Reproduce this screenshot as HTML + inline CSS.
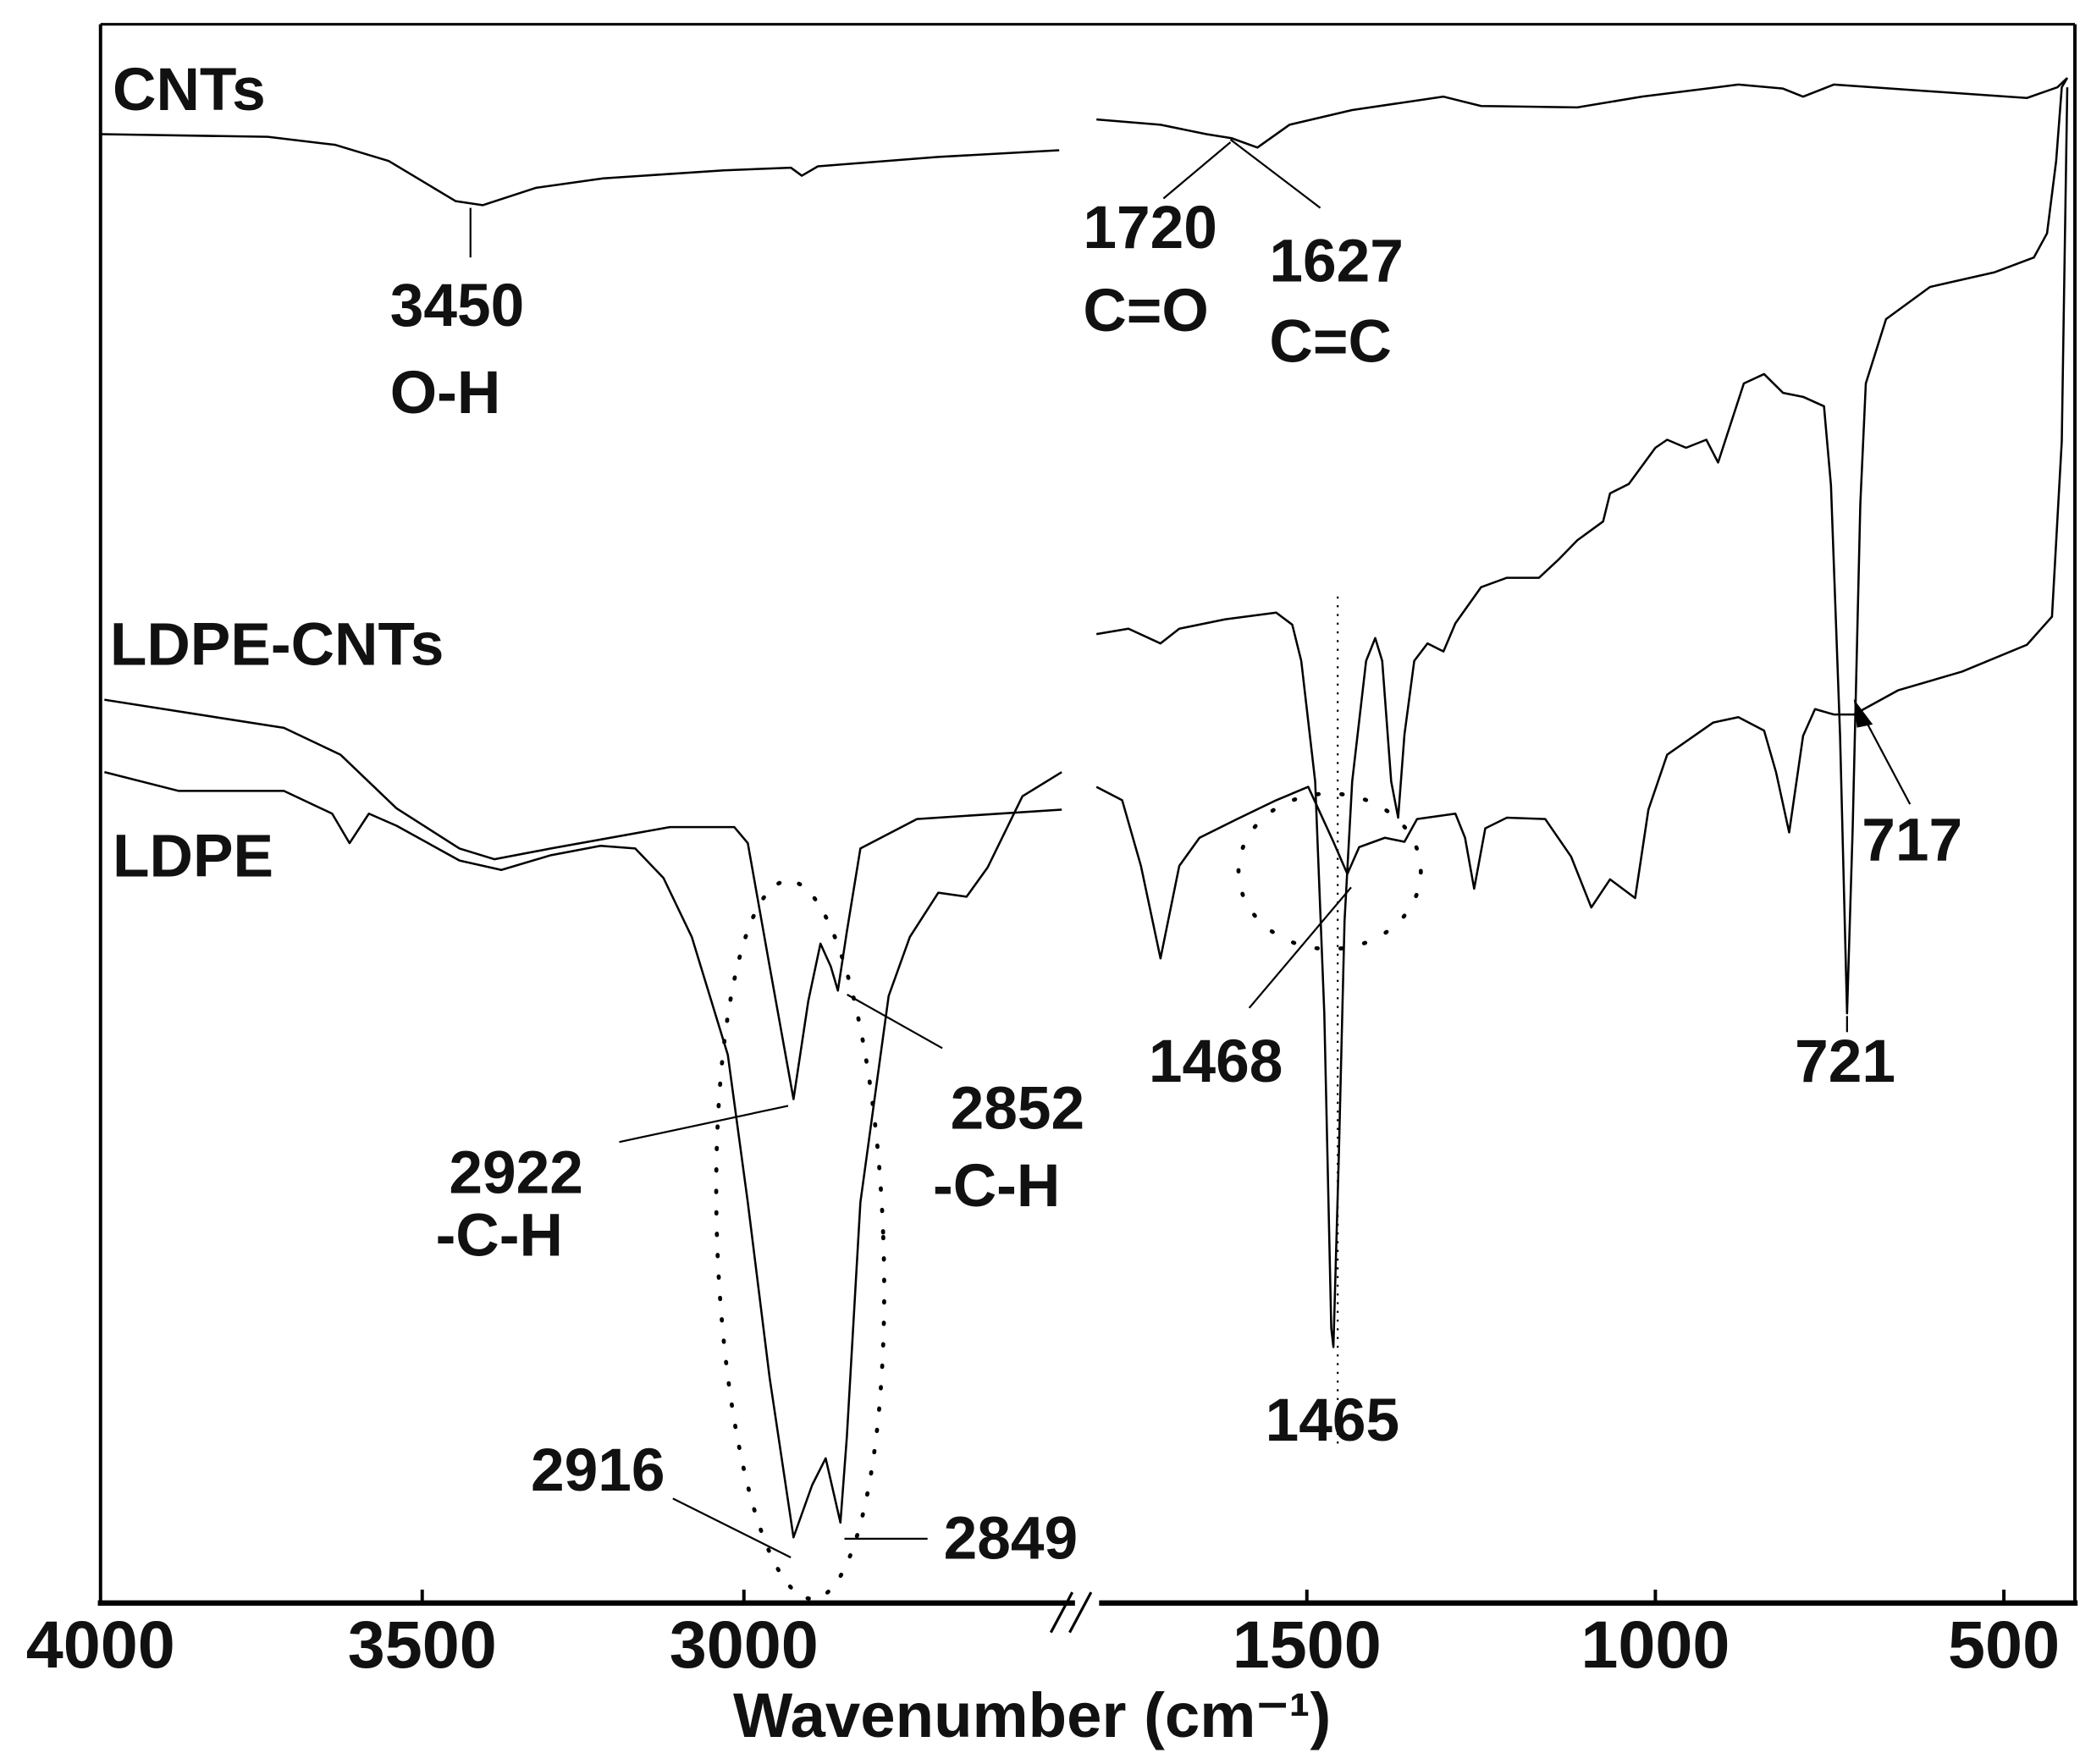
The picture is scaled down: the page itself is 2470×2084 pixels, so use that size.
<!DOCTYPE html>
<html><head><meta charset="utf-8">
<style>
html,body{margin:0;padding:0;background:#fff;}
svg{display:block;}
text{font-family:"Liberation Sans",Arial,sans-serif;font-weight:bold;fill:#111;}
</style></head>
<body>
<svg id="chart" width="2470" height="2084" viewBox="0 0 1560 1316" xmlns="http://www.w3.org/2000/svg">
<rect x="0" y="0" width="1560" height="1316" fill="#fff"/>
<g id="frame" stroke="#000" fill="none">
  <line x1="75" y1="18" x2="1548" y2="18" stroke-width="2"/>
  <line x1="75" y1="18" x2="75" y2="1196" stroke-width="2.5"/>
  <line x1="1548" y1="18" x2="1548" y2="1196" stroke-width="2.5"/>
  <line x1="73" y1="1196" x2="802" y2="1196" stroke-width="4"/>
  <line x1="820" y1="1196" x2="1550" y2="1196" stroke-width="4"/>
  <line x1="784" y1="1218" x2="800" y2="1188" stroke-width="2"/>
  <line x1="798" y1="1218" x2="814" y2="1188" stroke-width="2"/>
</g>
<g id="ticks"></g>
<g id="series" fill="none" stroke="#000" stroke-width="1.6"></g>
<g id="annot" stroke="#000" stroke-width="1.4" fill="none">
  <line x1="351" y1="155" x2="351" y2="192"/>
  <line x1="868" y1="148" x2="918" y2="106"/>
  <line x1="985" y1="155" x2="918" y2="104"/>
  <line x1="462" y1="852" x2="588" y2="825"/>
  <line x1="632" y1="742" x2="703" y2="782"/>
  <line x1="502" y1="1118" x2="590" y2="1162"/>
  <line x1="630" y1="1148" x2="692" y2="1148"/>
  <line x1="932" y1="752" x2="1008" y2="662"/>
  <line x1="1378" y1="758" x2="1378" y2="770"/>
  <line x1="1425" y1="600" x2="1390" y2="534"/>
  <polygon points="1384,524 1396,540 1386,542" fill="#000"/>
  <line x1="998" y1="445" x2="998" y2="1080" stroke-dasharray="1.5 5"/>
  <ellipse cx="597" cy="925" rx="62" ry="268" transform="rotate(-2 597 925)" stroke-width="3" stroke-dasharray="1 15" stroke-linecap="round"/>
  <ellipse cx="992" cy="650" rx="68" ry="58" stroke-width="3" stroke-dasharray="1 17" stroke-linecap="round"/>
</g>
<g id="labels" font-size="45">
  <text x="84" y="82">CNTs</text>
  <text x="82" y="496">LDPE-CNTs</text>
  <text x="84" y="654">LDPE</text>
  <text x="291" y="243">3450</text>
  <text x="291" y="308">O-H</text>
  <text x="808" y="185">1720</text>
  <text x="808" y="247">C=O</text>
  <text x="947" y="210">1627</text>
  <text x="947" y="270">C=C</text>
  <text x="335" y="890">2922</text>
  <text x="325" y="937">-C-H</text>
  <text x="709" y="842">2852</text>
  <text x="696" y="900">-C-H</text>
  <text x="396" y="1112">2916</text>
  <text x="704" y="1163">2849</text>
  <text x="857" y="807">1468</text>
  <text x="944" y="1075">1465</text>
  <text x="1339" y="807">721</text>
  <text x="1389" y="642">717</text>
  <text x="770" y="1296" text-anchor="middle" font-size="47">Wavenumber (cm⁻¹)</text>
</g>
</svg>
<script>
var tickValues = [4000, 3500, 3000, 1500, 1000, 500];
var cntsWn = [4000,3740,3635,3552,3448,3406,3323,3219,3031,2927,2910,2885,2698,2510, 1802,1710,1644,1608,1571,1525,1435,1304,1250,1112,1019,881,817,788,744,606,467,423,409];
var cntsT  = [1100,1098,1092,1080,1050,1047,1060,1067,1073,1075,1069,1076,1083,1088, 1111,1107,1100,1097,1090,1107,1118,1128,1121,1120,1128,1137,1134,1128,1137,1132,1127,1135,1142];
var ldpeCntsWn = [3994,3715,3627,3540,3442,3388,3300,3115,3015,2994,2960,2923,2900,2881,2865,2854,2840,2819,2731,2506, 1802,1765,1738,1710,1683,1654,1600,1544,1498,1462,1442,1425,1388,1360,1342,1287,1273,1260,1244,1213,1158,1121,1092,1065,1029,1010,983,917,881,844,827,808,788,771,744,715,652,560,467,431,417,409];
var ldpeCntsT  = [678,657,637,597,567,559,567,583,583,571,479,380,453,496,479,461,505,567,589,596, 613,603,554,485,554,575,589,603,613,572,548,568,575,572,589,593,575,537,582,590,589,561,523,544,530,596,637,661,665,655,624,579,651,671,667,667,685,699,719,740,871,1135];
var ldpeWn = [3994,3879,3715,3640,3613,3583,3540,3442,3377,3300,3223,3169,3125,3081,3025,2994,2960,2923,2894,2873,2850,2840,2819,2775,2742,2698,2654,2621,2567,2506, 1802,1756,1710,1683,1617,1544,1521,1508,1488,1475,1465,1462,1454,1446,1435,1415,1402,1392,1379,1369,1360,1346,1327,1304,1287,1250,1213,1167,1138,1112,1075,1065,1038,1000,983,956,927,910,890,873,844,817,788,758,748,735,725,717,706,698,669,606,513,457,438,425,417,409];
var ldpeT  = [624,610,610,593,571,593,584,558,551,562,569,567,545,501,413,303,172,53,92,112,64,128,303,457,501,534,531,553,606,624, 727,731,720,731,738,743,734,707,617,444,209,195,340,513,617,707,724,707,617,590,652,707,720,714,735,762,769,769,783,797,811,832,839,866,872,866,872,855,887,914,921,907,904,897,838,651,444,582,824,914,962,986,997,1008,1026,1080,1135,1142];

function xScale(wn){ return wn >= 2000 ? 75 + (4000 - wn) * 0.48 : 975 + (1500 - wn) * 0.52; }
function yScale(t){ return 1200 - t; }

var ns = "http://www.w3.org/2000/svg";
var tg = document.getElementById('ticks');
tickValues.forEach(function(v){
  var x = xScale(v);
  if (v !== 4000) {
    var l = document.createElementNS(ns,'line');
    l.setAttribute('x1',x); l.setAttribute('x2',x);
    l.setAttribute('y1',1196); l.setAttribute('y2',1186);
    l.setAttribute('stroke','#000'); l.setAttribute('stroke-width','2.5');
    
    
    tg.appendChild(l);
  }
  var t = document.createElementNS(ns,'text');
  t.setAttribute('x', x); t.setAttribute('y', 1244);
  t.setAttribute('text-anchor','middle'); t.setAttribute('font-size','50');
  t.textContent = v;
  
  
  tg.appendChild(t);
});

var sg = document.getElementById('series');
function draw(wn, tv, name){
  var segs = [[],[]];
  for (var i = 0; i < wn.length; i++){
    segs[wn[i] >= 2000 ? 0 : 1].push(xScale(wn[i]).toFixed(1)+','+yScale(tv[i]).toFixed(1));
  }
  segs.forEach(function(s){
    if (!s.length) return;
    var p = document.createElementNS(ns,'polyline');
    p.setAttribute('points', s.join(' '));
    p.setAttribute('stroke-linejoin','round');
    
    
    sg.appendChild(p);
  });
}
draw(cntsWn, cntsT, 'cnts-spectrum');
draw(ldpeCntsWn, ldpeCntsT, 'ldpe-cnts-spectrum');
draw(ldpeWn, ldpeT, 'ldpe-spectrum');
</script>
</body></html>
